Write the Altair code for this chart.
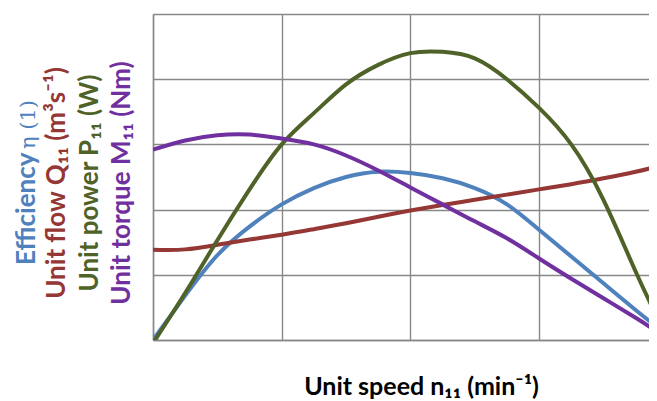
import altair as alt
import pandas as pd

# Unit speed positions (grid every 1 unit, right edge cut at ~3.9)
n11 = [0, 0.25, 0.5, 0.75, 1.0, 1.25, 1.5, 1.75, 2.0, 2.25, 2.5, 2.75, 3.0, 3.25, 3.5, 3.75, 3.916]
efficiency = [0, 0.68, 1.3, 1.74, 2.08, 2.33, 2.5, 2.58, 2.56, 2.48, 2.33, 2.08, 1.69, 1.28, 0.87, 0.46, 0.2]
flow = [1.385, 1.39, 1.46, 1.54, 1.615, 1.70, 1.79, 1.89, 1.985, 2.07, 2.15, 2.23, 2.31, 2.39, 2.48, 2.58, 2.66]
power = [-0.05, 0.72, 1.53, 2.31, 3.0, 3.48, 3.92, 4.22, 4.4, 4.42, 4.32, 4.0, 3.56, 3.0, 2.15, 1.05, 0.36]
torque = [2.92, 3.06, 3.14, 3.15, 3.09, 3.0, 2.83, 2.60, 2.34, 2.08, 1.82, 1.56, 1.25, 0.94, 0.64, 0.34, 0.13]

series_names = ["Efficiency", "Flow", "Power", "Torque"]
series_colors = ["#4F81BD", "#953735", "#4F6228", "#7030A0"]

rows = []
for name, vals in zip(series_names, [efficiency, flow, power, torque]):
    for xv, yv in zip(n11, vals):
        rows.append({"n": xv, "v": yv, "s": name})
df = pd.DataFrame(rows)

W, H = 496, 326
XMAX = 3.854

grid_axis = dict(labels=False, ticks=False, title=None, grid=True,
                 gridColor="#888888", gridWidth=1.4,
                 domain=True, domainColor="#888888", domainWidth=1.4)

lines = alt.Chart(df).mark_line(strokeWidth=4, interpolate="natural", clip=True).encode(
    x=alt.X("n:Q", scale=alt.Scale(domain=[0, XMAX], nice=False, zero=False),
            axis=alt.Axis(values=[0, 1, 2, 3], **grid_axis)),
    y=alt.Y("v:Q", scale=alt.Scale(domain=[0, 5], nice=False),
            axis=alt.Axis(values=[0, 1, 2, 3, 4, 5], **grid_axis)),
    color=alt.Color("s:N", scale=alt.Scale(domain=series_names, range=series_colors), legend=None),
    order=alt.Order("n:Q"),
)

FONT = "Lato"
FS = 26
layers = [lines]

def vtext(txt, bx, py, color, align="center", font=FONT, weight="bold", size=FS):
    return alt.Chart(pd.DataFrame({"t": [txt]})).mark_text(
        angle=270, align=align, baseline="alphabetic", font=font, fontWeight=weight,
        fontSize=size, color=color,
    ).encode(text="t:N", x=alt.value(bx - 153), y=alt.value(py - 14))

layers.append(vtext("Efficiency", 35, 265, "#4F81BD", align="left"))
layers.append(vtext("η (1)", 35, 149, "#4F81BD", align="left", font="DejaVu Serif", weight="normal", size=21))
layers.append(vtext("Unit flow Q₁₁ (m³s⁻¹)", 65, 183, "#953735"))
layers.append(vtext("Unit power P₁₁ (W)", 98, 183, "#4F6228"))
layers.append(vtext("Unit torque M₁₁ (Nm)", 130, 183, "#7030A0"))

xtitle = alt.Chart(pd.DataFrame({"t": ["Unit speed n₁₁ (min⁻¹)"]})).mark_text(
    align="center", baseline="alphabetic", font=FONT, fontWeight="bold", fontSize=25, color="#000000"
).encode(text="t:N", x=alt.value(421.5 - 153), y=alt.value(395 - 14))
layers.append(xtitle)

chart = alt.layer(*layers).properties(
    width=W, height=H,
    autosize=alt.AutoSizeParams(type="none"),
    padding={"left": 145, "top": 6, "right": 0, "bottom": 62},
).configure_view(stroke=None).configure(background="white")

chart.save("out.html", embed_options={"renderer": "svg", "actions": False})
